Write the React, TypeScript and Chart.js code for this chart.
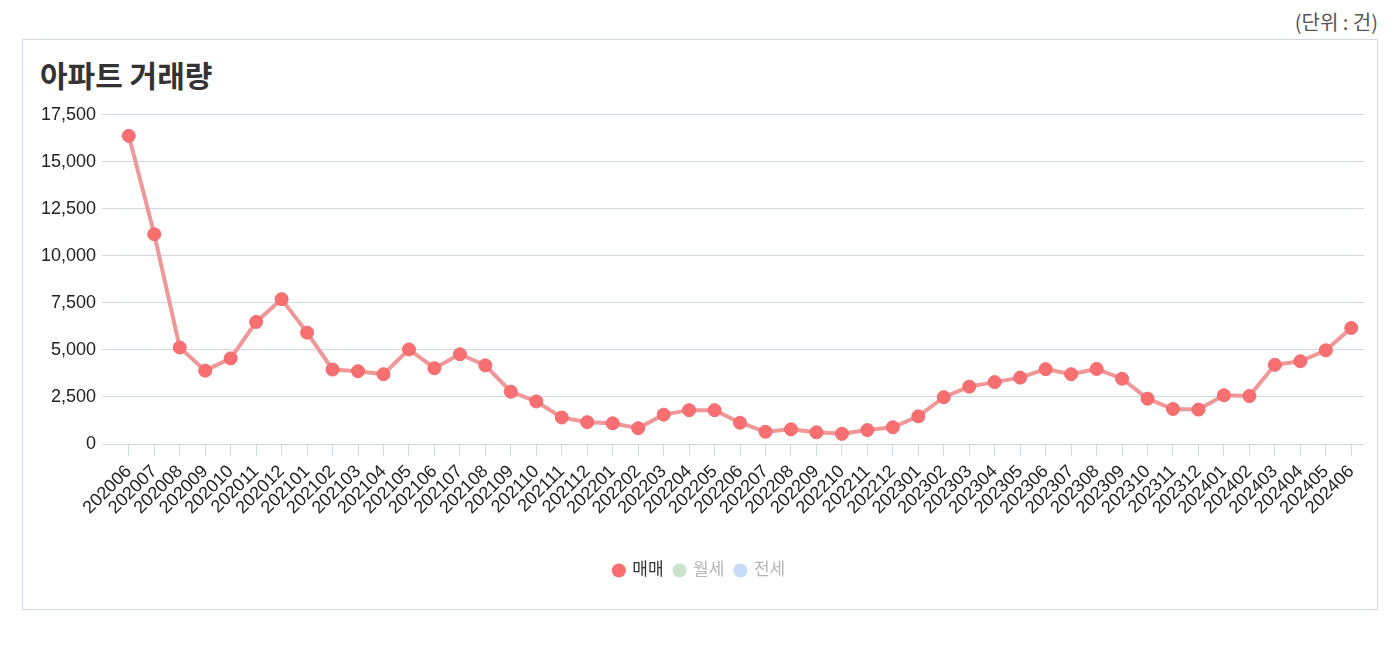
import React, { useEffect, useRef } from "react";
import { Chart, registerables } from "chart.js";

Chart.register(...registerables);

const months: string[] = [
  "202006", "202007", "202008", "202009", "202010", "202011", "202012",
  "202101", "202102", "202103", "202104", "202105", "202106", "202107", "202108", "202109", "202110", "202111", "202112",
  "202201", "202202", "202203", "202204", "202205", "202206", "202207", "202208", "202209", "202210", "202211", "202212",
  "202301", "202302", "202303", "202304", "202305", "202306", "202307", "202308", "202309", "202310", "202311", "202312",
  "202401", "202402", "202403", "202404", "202405", "202406",
];

const saleValues: number[] = [
  16380, 11150, 5130, 3900, 4550, 6490, 7700,
  5920, 3960, 3870, 3710, 5030, 4030, 4770, 4180, 2780, 2260, 1410, 1160,
  1100, 840, 1560, 1800, 1800, 1130, 650, 780, 620, 540, 740, 890,
  1470, 2490, 3050, 3290, 3530, 3980, 3710, 3990, 3470, 2410, 1860, 1830,
  2590, 2550, 4210, 4400, 4980, 6170,
];

const monthlyRentValues: (number | null)[] = [];
const jeonseValues: (number | null)[] = [];

const seriesNames: string[] = ["매매", "월세", "전세"];
const yTicks: number[] = [0, 2500, 5000, 7500, 10000, 12500, 15000, 17500];

const FONT = "'Liberation Sans', Arial, 'Noto Sans CJK KR', sans-serif";
const GRID = "#cfd8e3";

export default function App() {
  const canvasRef = useRef<HTMLCanvasElement | null>(null);

  useEffect(() => {
    if (!canvasRef.current) return;
    const chart = new Chart(canvasRef.current, {
      type: "line",
      data: {
        labels: months,
        datasets: [
          {
            label: seriesNames[0],
            data: saleValues,
            borderColor: "#f09797",
            backgroundColor: "#f76f71",
            pointBackgroundColor: "#f76f71",
            pointBorderColor: "#f26a6c",
            pointBorderWidth: 1,
            pointRadius: 6.5,
            borderWidth: 4,
            tension: 0,
          },
          {
            label: seriesNames[1],
            data: monthlyRentValues,
            borderColor: "#c8e4cc",
            backgroundColor: "#c8e4cc",
          },
          {
            label: seriesNames[2],
            data: jeonseValues,
            borderColor: "#c9dcf7",
            backgroundColor: "#c9dcf7",
          },
        ],
      },
      options: {
        animation: false,
        responsive: false,
        locale: "en-US",
        layout: { padding: { left: 12, right: 13, top: 12, bottom: 8 } },
        plugins: {
          title: { display: false },
          tooltip: { enabled: false },
          legend: {
            display: true,
            position: "bottom",
            labels: {
              usePointStyle: true,
              boxWidth: 10,
              boxHeight: 10,
              padding: 11,
              font: { family: FONT, size: 17 },
              generateLabels: (c: any) =>
                c.data.datasets.map((ds: any, i: number) => ({
                  text: ds.label,
                  fillStyle: ds.backgroundColor,
                  strokeStyle: ds.backgroundColor,
                  lineWidth: 0,
                  pointStyle: "circle",
                  hidden: false,
                  datasetIndex: i,
                  fontColor: i === 0 ? "#333333" : "#b5b5b5",
                })),
            },
          },
        },
        scales: {
          x: {
            offset: true,
            afterFit: (axis: any) => {
              axis.height = 107;
            },
            grid: {
              display: true,
              drawOnChartArea: false,
              drawTicks: true,
              tickLength: 12,
              color: GRID,
            },
            border: { display: true, color: GRID, width: 1 },
            ticks: {
              autoSkip: false,
              minRotation: 45,
              maxRotation: 45,
              color: "#222222",
              padding: 5,
              font: { family: FONT, size: 18 },
            },
          },
          y: {
            min: 0,
            max: 17500,
            afterBuildTicks: (axis: any) => {
              axis.ticks = yTicks.map((v) => ({ value: v }));
            },
            grid: {
              color: GRID,
              tickLength: 14,
              drawTicks: true,
            },
            border: { display: false },
            ticks: {
              color: "#222222",
              padding: 6,
              font: { family: FONT, size: 18 },
            },
          },
        },
      },
    });
    return () => chart.destroy();
  }, []);

  return (
    <div style={{ position: "absolute", left: 0, top: 0, width: 1400, height: 668, background: "#fff" }}>
      <div
        style={{
          position: "absolute",
          right: 22,
          top: 8,
          fontFamily: "'Noto Sans CJK KR', sans-serif",
          fontSize: 20,
          lineHeight: "28px",
          color: "#555",
        }}
      >
        (단위 : 건)
      </div>
      <div
        style={{
          position: "absolute",
          left: 22,
          top: 39,
          width: 1354,
          height: 569,
          border: "1px solid #cdd6de",
        }}
      >
        <div
          style={{
            position: "absolute",
            left: 17,
            top: 14,
            fontFamily: "'Noto Sans CJK KR', sans-serif",
            fontWeight: 700,
            fontSize: 30,
            lineHeight: "40px",
            color: "#333",
          }}
        >
          아파트 거래량
        </div>
        <canvas
          ref={canvasRef}
          width={1354}
          height={499}
          style={{ position: "absolute", left: 0, top: 58, width: 1354, height: 499 }}
        />
      </div>
    </div>
  );
}
